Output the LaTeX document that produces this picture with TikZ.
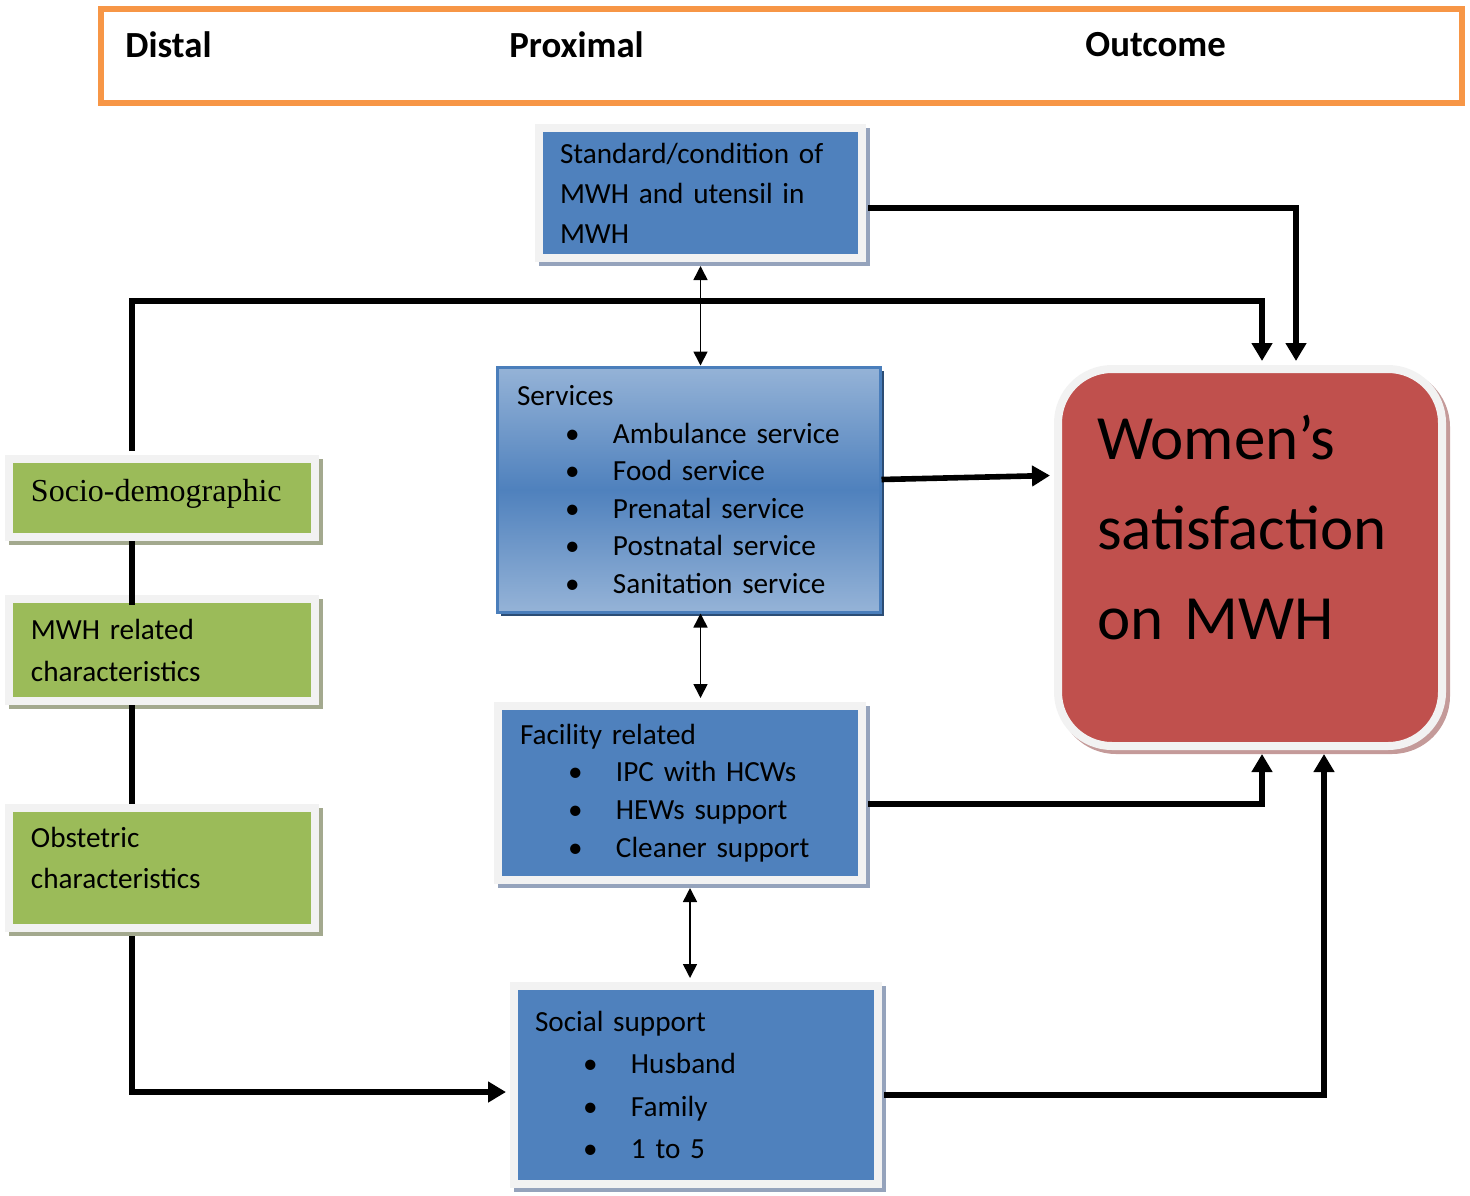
\documentclass[tikz,border=0pt]{standalone}
\usepackage{fontspec}
\setmainfont{Carlito}
\newfontfamily\timesfont{Liberation Serif}
\usetikzlibrary{calc,arrows.meta,positioning,shadows}

\definecolor{boxblue}{HTML}{4F81BD}
\definecolor{lightblue}{HTML}{95B3D7}
\definecolor{servedge}{HTML}{4A7EBB}
\definecolor{servshade}{HTML}{2C4D75}
\definecolor{blueshade}{HTML}{95A3BC}
\definecolor{boxgreen}{HTML}{9BBB59}
\definecolor{greenshade}{HTML}{A3A98E}
\definecolor{boxred}{HTML}{C0504D}
\definecolor{redshade}{HTML}{C49A99}
\definecolor{hdrorange}{HTML}{F79646}
\definecolor{framegray}{HTML}{F2F2F2}

% box font: size, line distance, tight word space
\newcommand{\boxfont}[2]{\fontsize{#1}{#2}\selectfont\spaceskip=0.19em\relax}
% bullet item inside a box
\newcommand{\itm}[1]{\hspace*{24pt}\makebox[24pt][l]{\textbullet}#1}

\begin{document}
\begin{tikzpicture}[x=0.5pt,y=-0.5pt,>=Triangle,
  framebox/.style={draw=framegray,line width=4pt,inner sep=0pt,align=left,
    font=\boxfont{14.6}{20}},
  bluebox/.style={framebox,fill=boxblue,
    drop shadow={shadow xshift=2pt,shadow yshift=-2pt,fill=blueshade,draw=blueshade,line width=4pt,opacity=1}},
  greenbox/.style={framebox,fill=boxgreen,minimum width=153pt,text width=131pt,
    drop shadow={shadow xshift=2pt,shadow yshift=-2pt,fill=greenshade,draw=greenshade,line width=4pt,opacity=1}},
  servbox/.style={draw=servedge,line width=1.5pt,inner sep=0pt,align=left,
    top color=lightblue,bottom color=lightblue,middle color=boxblue,
    minimum width=191.5pt,minimum height=122.5pt,text width=171.5pt,
    font=\boxfont{14.6}{18.75},
    drop shadow={shadow xshift=2pt,shadow yshift=-2pt,fill=servshade,opacity=1}},
  outbox/.style={framebox,fill=boxred,rounded corners=27pt,
    minimum width=192pt,minimum height=188.5pt,text width=153pt,
    font=\boxfont{31.5}{45},
    drop shadow={shadow xshift=2pt,shadow yshift=-2pt,fill=redshade,draw=redshade,line width=4pt,opacity=1}},
  hdrtext/.style={anchor=west,inner sep=0pt,font=\fontsize{18.4}{22}\selectfont\bfseries},
  thickline/.style={line width=2.8pt},
  thickarr/.style={line width=2.8pt,-{Triangle[length=9pt,width=10pt]}},
  thinarr/.style={line width=0.8pt,{Triangle[length=7pt,width=7pt]}-{Triangle[length=7pt,width=7pt]}}]

  \useasboundingbox (0,0) rectangle (1470,1195);

  % --- Header ---
  \node[draw=hdrorange,line width=3pt,minimum width=680.5pt,minimum height=47pt] (hdr) at (781.5,56) {};
  \node[hdrtext] (distal) at (125,45) {Distal};
  \node[hdrtext] (proximal) at (509,45) {Proximal};
  \node[hdrtext] (outcome) at (1085,45) {Outcome};

  % --- Distal factors ---
  \node[greenbox,minimum height=39pt,font=\timesfont\fontsize{16}{19}\selectfont] (sd) at (162,498) {Socio-demographic\\[-11pt]\mbox{}};
  \node[greenbox,minimum height=51pt,font=\boxfont{14.6}{21}] (mwh) at (162,650) {MWH related\\characteristics};
  \node[greenbox,minimum height=60pt,font=\boxfont{14.6}{20.5}] (obs) at (162,868) {Obstetric\\characteristics\\[-10.5pt]\mbox{}};

  % --- Proximal factors ---
  \node[bluebox,minimum width=161.5pt,minimum height=65pt,text width=140.5pt] (std) at (700.5,193)
    {Standard/condition of\\MWH and utensil in\\MWH};
  \node[servbox] (serv) at (688.5,489.5)
    {Services\\\itm{Ambulance service}\\\itm{Food service}\\\itm{Prenatal service}\\\itm{Postnatal service}\\\itm{Sanitation service}};
  \node[bluebox,minimum width=182pt,minimum height=87pt,text width=160pt,font=\boxfont{14.6}{18.85}] (fac) at (680,793)
    {Facility related\\\itm{IPC with HCWs}\\\itm{HEWs support}\\\itm{Cleaner support}};
  \node[bluebox,minimum width=182pt,minimum height=99pt,text width=161pt,font=\boxfont{14.6}{21.3}] (soc) at (696,1085)
    {Social support\\\itm{Husband}\\\itm{Family}\\\itm{1 to 5}};

  % --- Outcome ---
  \node[outbox] (sat) at (1250,557.5) {Women’s\\satisfaction\\on MWH\\[-15pt]\mbox{}};

  % --- Links between distal factors ---
  \draw[thickline] ($(sd.south)+(-30,0)$) -- ($(mwh.north)+(-30,10)$);
  \draw[thickline] ($(mwh.south)+(-30,0)$) -- ($(obs.north)+(-30,0)$);

  % --- Arrows to the outcome ---
  \draw[thickarr] ($(std.east)+(2,15)$) -| ($(sat.north)+(46,-4)$);
  \draw[thickarr] ($(sd.north)+(-30,-4)$) |- ($(sat.north)+(12,-64)$) -- ($(sat.north)+(12,-4)$);
  \draw[thickarr] ($(serv.east)+(0,-10)$) -- ($(sat.west)+(-4,-82)$);
  \draw[thickarr] ($(fac.east)+(2,11)$) -| ($(sat.south)+(12,4)$);
  \draw[thickarr] ($(soc.east)+(2,10)$) -| ($(sat.south)+(74,4)$);
  \draw[thickarr] ($(obs.south)+(-30,4)$) |- ($(soc.west)+(-4,7)$);

  % --- Links between proximal factors ---
  \draw[thinarr] ($(std.south)+(0,4)$) -- (std.south |- serv.north);
  \draw[thinarr] (std.south |- serv.south) -- ($(std.south |- fac.north)+(0,-4)$);
  \draw[thinarr] ($(fac.south)+(10,4)$) -- ($(soc.north)+(-6,-4)$);
\end{tikzpicture}
\end{document}
